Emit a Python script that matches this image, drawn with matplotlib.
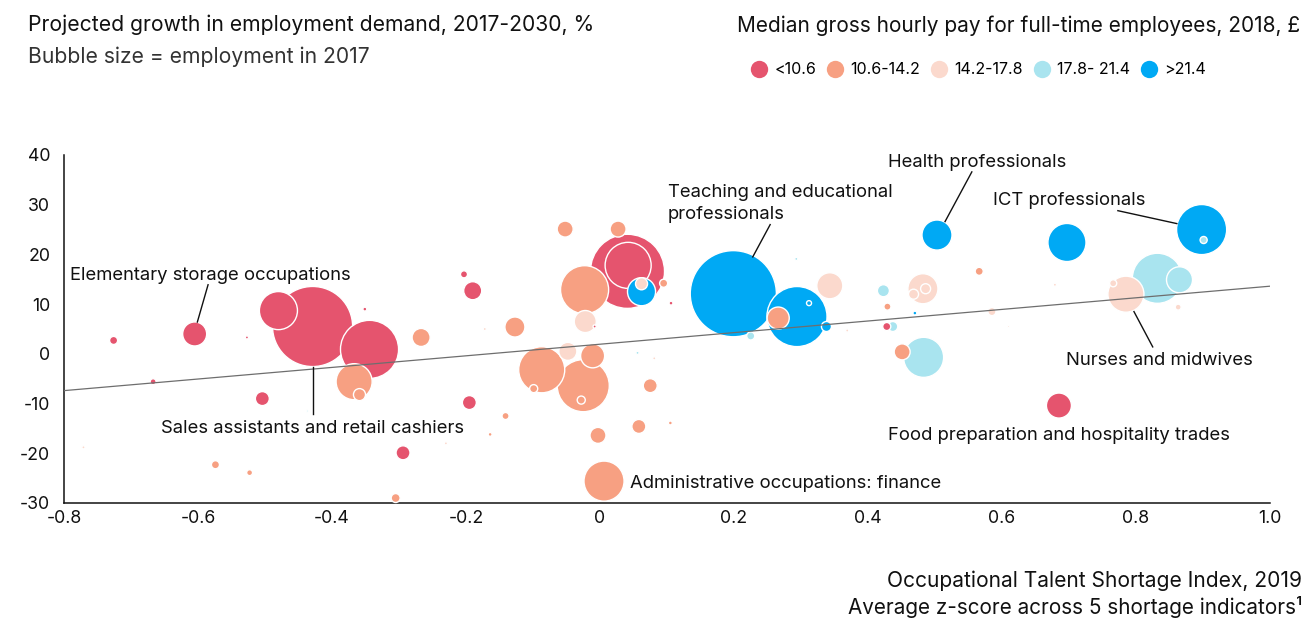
import matplotlib.pyplot as plt
import numpy as np

plt.rcParams['font.family'] = ['Inter', 'DejaVu Sans']
plt.rcParams['axes.unicode_minus'] = False

# pay bands (legend) and colours
BANDS = ['<10.6', '10.6-14.2', '14.2-17.8', '17.8- 21.4', '>21.4']
BAND_COLORS = ['#E5546E', '#F7A082', '#FBD9CD', '#A9E4EF', '#00A9F4']

# talent shortage index, growth %, employment 2017 (thousands), pay band index
shortage = [-0.726, -0.667, -0.605, -0.527, -0.480, -0.429, -0.344, -0.351, -0.267, -0.367,
            -0.359, -0.504, -0.437, -0.771, -0.574, -0.523, -0.294, -0.305, -0.230, -0.203,
            -0.190, -0.052, 0.027, 0.041, 0.042, 0.062, 0.062, 0.095, -0.023, 0.106,
            -0.022, -0.008, -0.127, -0.172, -0.048, -0.011, -0.087, -0.099, -0.025, -0.028,
            0.075, 0.056, 0.081, -0.195, -0.141, -0.164, 0.058, 0.105, -0.003, 0.006,
            0.199, 0.225, 0.294, 0.266, 0.312, 0.338, 0.293, 0.343, 0.369, 0.423,
            0.429, 0.437, 0.428, 0.503, 0.697, 0.898, 0.901, 0.566, 0.470, 0.482,
            0.486, 0.468, 0.483, 0.451, 0.585, 0.679, 0.610, 0.832, 0.865, 0.785,
            0.766, 0.863, 0.685]
growth = [2.7, -5.6, 4.0, 3.3, 8.7, 5.5, 0.9, 9.0, 3.3, -5.6,
          -8.2, -9.0, -11.5, -18.8, -22.3, -23.9, -19.9, -29.0, -18.0, 16.0,
          12.7, 25.1, 25.1, 16.6, 17.8, 12.5, 14.1, 14.2, 12.9, 10.2,
          6.5, 5.5, 5.4, 5.0, 0.5, -0.4, -3.2, -7.0, -6.4, -9.3,
          -6.4, 0.2, -0.9, -9.8, -12.5, -16.2, -14.6, -13.9, -16.4, -25.6,
          12.1, 3.6, 7.5, 7.2, 10.2, 5.5, 19.1, 13.7, 4.7, 12.7,
          9.5, 5.5, 5.5, 23.9, 22.4, 25.0, 22.9, 16.6, 8.2, 13.1,
          13.1, 12.0, -0.7, 0.4, 8.5, 13.9, 5.5, 15.2, 14.9, 12.0,
          14.2, 9.4, -10.4]
employment = [13, 7, 115, 2, 289, 1280, 673, 3, 65, 259,
              29, 39, 1, 2, 13, 7, 39, 16, 2, 10,
              65, 51, 51, 1095, 423, 157, 29, 13, 461, 3,
              97, 2, 80, 2, 65, 115, 423, 13, 541, 13,
              39, 2, 2, 39, 10, 3, 39, 3, 51, 320,
              1479, 13, 720, 97, 5, 20, 2, 135, 2, 29,
              10, 20, 13, 180, 289, 500, 10, 13, 3, 180,
              20, 20, 320, 51, 13, 2, 1, 500, 135, 259,
              10, 7, 125]
band = [0, 0, 0, 0, 0, 0, 0, 0, 1, 1,
        1, 0, 3, 2, 1, 1, 0, 1, 2, 0,
        0, 1, 1, 0, 0, 4, 2, 1, 1, 0,
        2, 0, 1, 2, 2, 1, 1, 1, 1, 1,
        1, 3, 2, 0, 1, 1, 1, 1, 1, 1,
        4, 3, 4, 1, 4, 4, 3, 2, 2, 3,
        1, 3, 0, 4, 4, 4, 3, 1, 4, 2,
        2, 2, 3, 1, 2, 2, 2, 3, 3, 2,
        2, 2, 0]

# linear trend line
trend_x = [-0.8, 1.016]
trend_intercept = 1.94
trend_slope = 11.67

# callouts: label, text position, leader line (from, to) or None
callouts = [
    ('Elementary storage occupations', (-0.791, 15.7), ((-0.585, 13.9), (-0.601, 6.4))),
    ('Sales assistants and retail cashiers', (-0.655, -15.0), ((-0.428, -2.6), (-0.428, -12.1))),
    ('Teaching and educational\nprofessionals', (0.101, 30.2), ((0.254, 26.0), (0.228, 19.5))),
    ('Health professionals', (0.430, 38.4), ((0.555, 36.6), (0.515, 26.6))),
    ('ICT professionals', (0.587, 30.8), ((0.773, 28.8), (0.861, 26.2))),
    ('Nurses and midwives', (0.696, -1.4), ((0.797, 8.5), (0.825, 1.4))),
    ('Food preparation and hospitality trades', (0.430, -16.5), None),
    ('Administrative occupations: finance', (0.045, -26.1), None),
]

SIZE_PER_THOUSAND = 2.6

fig = plt.figure(figsize=(13.04, 6.19), dpi=100)
ax = fig.add_axes([0.0491, 0.1874, 0.9248, 0.5622])

x = np.array(shortage)
y = np.array(growth)
emp = np.array(employment)
cols = np.array([BAND_COLORS[b] for b in band])

# big bubbles underneath, small ones on top
order = np.argsort(-emp, kind='stable')
ax.scatter(x[order], y[order], s=emp[order] * SIZE_PER_THOUSAND, c=cols[order],
           edgecolors='white', linewidths=1.0, zorder=3)

tx = np.array(trend_x)
ax.plot(tx, trend_intercept + trend_slope * tx, color='#6e6e6e', lw=0.9, zorder=4)

for label, (lx, ly), leader in callouts:
    ax.text(lx, ly, label, fontsize=13.3, ha='left', va='center', color='#111111',
            linespacing=1.4, zorder=6)
    if leader is not None:
        (x0, y0), (x1, y1) = leader
        ax.plot([x0, x1], [y0, y1], color='#111111', lw=1.0, zorder=5)

ax.set_xlim(-0.8, 1.0)
ax.set_ylim(-30, 40)
ax.set_xticks([-0.8, -0.6, -0.4, -0.2, 0, 0.2, 0.4, 0.6, 0.8, 1.0])
ax.set_xticklabels(['-0.8', '-0.6', '-0.4', '-0.2', '0', '0.2', '0.4', '0.6', '0.8', '1.0'])
ax.set_yticks(range(-30, 41, 10))
ax.tick_params(axis='both', length=0, labelsize=12.8, colors='#111111')
ax.tick_params(axis='y', pad=10)
ax.tick_params(axis='x', pad=5)
for side in ('top', 'right'):
    ax.spines[side].set_visible(False)
for side in ('left', 'bottom'):
    ax.spines[side].set_color('#111111')
    ax.spines[side].set_linewidth(1.1)
ax.patch.set_alpha(0)
for c in ax.collections:
    c.set_clip_on(False)

# titles
fig.text(28 / 1304, 1 - 25 / 619, 'Projected growth in employment demand, 2017-2030, %',
         fontsize=15.2, va='center', ha='left', color='#111111')
fig.text(28 / 1304, 1 - 57 / 619, 'Bubble size = employment in 2017',
         fontsize=15.2, va='center', ha='left', color='#333333')
fig.text(1300 / 1304, 1 - 26 / 619, 'Median gross hourly pay for full-time employees, 2018, £',
         fontsize=15, va='center', ha='right', color='#111111')
fig.text(1302 / 1304, 1 - 581 / 619, 'Occupational Talent Shortage Index, 2019',
         fontsize=15.1, va='center', ha='right', color='#111111')
fig.text(1302 / 1304, 1 - 607 / 619, 'Average z-score across 5 shortage indicators¹',
         fontsize=14.9, va='center', ha='right', color='#111111')

handles = [plt.Line2D([], [], marker='o', ls='', markersize=12.5, markerfacecolor=c,
                      markeredgecolor='none') for c in BAND_COLORS]
fig.legend(handles, BANDS, loc='center left', bbox_to_anchor=(735 / 1304, 1 - 70 / 619),
           ncol=5, frameon=False, fontsize=11.5, handletextpad=0.35, columnspacing=0.6,
           handlelength=1.2)

fig.savefig('out.png', dpi=100)
